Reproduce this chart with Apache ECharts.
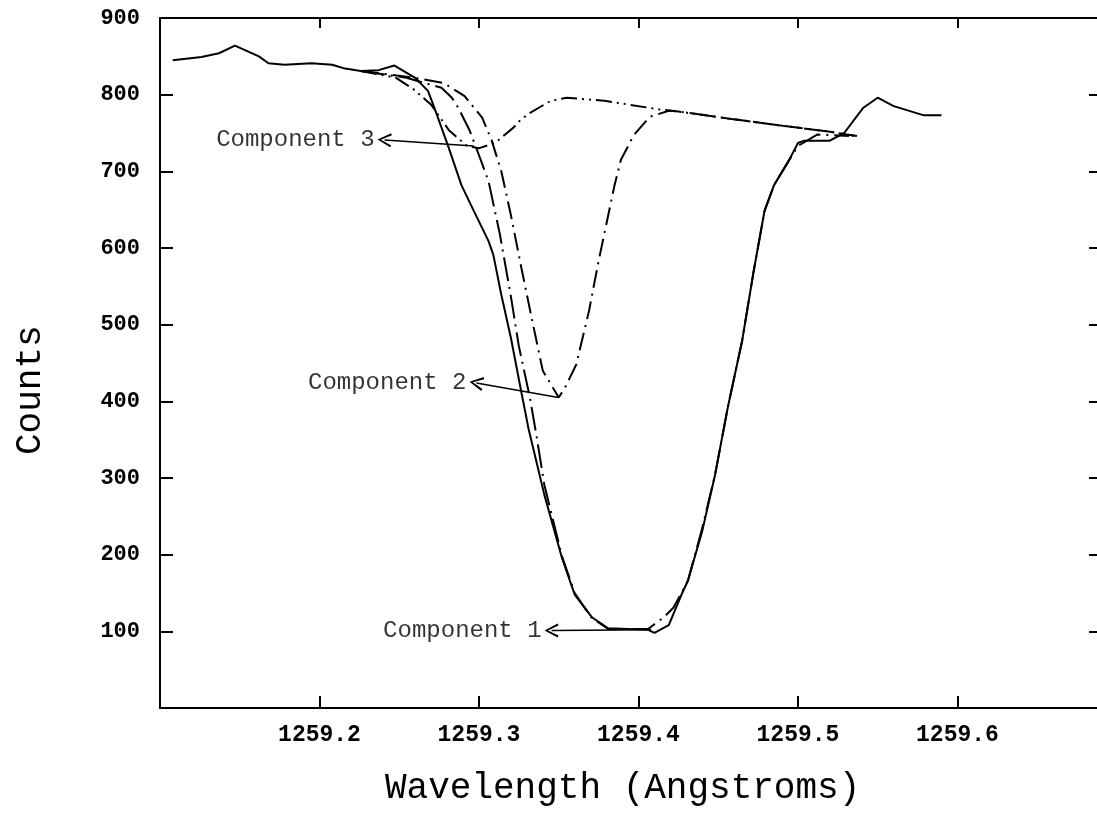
<!DOCTYPE html>
<html><head><meta charset="utf-8">
<script src="https://cdn.jsdelivr.net/npm/echarts@6/dist/echarts.min.js"></script>
<style>html,body{margin:0;padding:0;background:#fff}#c{width:1097px;height:825px}</style>
</head><body><div id="c"></div>
<script>
// Observed spectrum (solid line)
const observedWl = [1259.108,1259.126,1259.137,1259.147,1259.162,1259.168,1259.178,1259.195,1259.208,1259.216,1259.226,1259.237,1259.247,1259.260,1259.268,1259.272,1259.281,1259.289,1259.295,1259.306,1259.309,1259.314,1259.320,1259.326,1259.331,1259.341,1259.352,1259.360,1259.371,1259.381,1259.406,1259.410,1259.419,1259.427,1259.431,1259.440,1259.448,1259.456,1259.465,1259.472,1259.479,1259.485,1259.494,1259.500,1259.504,1259.520,1259.529,1259.541,1259.550,1259.560,1259.579,1259.590];
const observedCounts = [845,849,854,864,850,841,839,841,839,834,831,832,838,822,805,783,731,682,656,609,591,539,483,418,365,278,196,148,118,104,102,98,108,148,166,231,304,392,479,567,648,682,713,737,740,740,750,783,796,785,773,773];

// Component 1 (long dash-dot)
const comp1Wl = [1259.226,1259.2545,1259.2765,1259.283,1259.287,1259.294,1259.300,1259.306,1259.313,1259.320,1259.325,1259.332,1259.336,1259.341,1259.352,1259.360,1259.3705,1259.381,1259.406,1259.4157,1259.422,1259.431,1259.4395,1259.448,1259.456,1259.465,1259.472,1259.479,1259.485,1259.494,1259.500,1259.512,1259.532];
const comp1Counts = [831,822,809,796,783,754,721,687,619,537,472,404,356,291,198,150,118,103,103,118,131,166,231,304,392,479,567,648,682,713,733,748,746];

// Component 2 (dash-dot)
const comp2Wl = [1259.226,1259.2596,1259.278,1259.285,1259.291,1259.302,1259.308,1259.314,1259.320,1259.3266,1259.333,1259.340,1259.350,1259.354,1259.361,1259.369,1259.375,1259.385,1259.389,1259.397,1259.407,1259.419,1259.425,1259.456,1259.488,1259.519,1259.537];
const comp2Counts = [831,822,815,806,798,770,740,700,643,574,509,440,405,418,448,518,583,682,715,747,771,779,778,769,760,752,746];

// Component 3 (dash-dot-dot)
const comp3Wl = [1259.226,1259.248,1259.259,1259.270,1259.281,1259.292,1259.2997,1259.310,1259.3216,1259.326,1259.3317,1259.345,1259.355,1259.3787,1259.394,1259.4125,1259.425,1259.456,1259.488,1259.519,1259.537];
const comp3Counts = [831,822,807,787,754,734,730,737,757,767,776,792,796,792,787,781,778,769,760,752,746];

// Annotations
const annotationLabels = ['Component 1','Component 2','Component 3'];
const arrowHeadWl = [1259.3455,1259.2984,1259.2408];
const arrowHeadCounts = [101,424,741];
const arrowTailWl = [1259.408,1259.3498,1259.2966];
const arrowTailCounts = [102,405,733];

// Axis ticks
const xTickValues = [1259.2,1259.3,1259.4,1259.5,1259.6];
const yTickValues = [100,200,300,400,500,600,700,800,900];
const xMin = 1259.1, xMax = 1259.6875;
const yMin = 0, yMax = 900;

const zip = (a, b) => a.map((v, i) => [v, b[i]]);
const chevron = 'path://M5,0 L10,10 L8.6,10.7 L5,2.6 L1.4,10.7 L0,10 Z';

const axisLineStyle = { color: '#000', width: 2 };
const tickStyle = (len) => ({ show: true, inside: true, length: len, lineStyle: { color: '#000', width: 2 } });

const chart = echarts.init(document.getElementById('c'), null, { renderer: 'canvas' });
chart.setOption({
  animation: false,
  backgroundColor: '#fff',
  grid: { left: 160, right: 0, top: 18, bottom: 117 },
  xAxis: [{
    type: 'value', min: xMin, max: xMax, position: 'bottom',
    axisLine: { show: true, onZero: false, lineStyle: axisLineStyle },
    axisTick: Object.assign(tickStyle(12), { customValues: xTickValues }), splitLine: { show: false },
    axisLabel: { customValues: xTickValues, margin: 16, fontSize: 23, color: '#000', fontFamily: 'Liberation Mono', fontWeight: 'bold', formatter: v => v.toFixed(1) }
  }, {
    type: 'value', min: xMin, max: xMax, position: 'top',
    axisLine: { show: true, onZero: false, lineStyle: axisLineStyle },
    axisTick: Object.assign(tickStyle(10), { customValues: xTickValues }),
    axisLabel: { show: false }, splitLine: { show: false }
  }],
  yAxis: [{
    type: 'value', min: yMin, max: yMax, position: 'left',
    axisLine: { show: true, onZero: false, lineStyle: axisLineStyle },
    axisTick: Object.assign(tickStyle(13), { customValues: yTickValues }), splitLine: { show: false },
    axisLabel: { customValues: yTickValues, margin: 20, color: '#000', fontFamily: 'Liberation Mono', fontWeight: 'bold', fontSize: 22 }
  }, {
    type: 'value', min: yMin, max: yMax, position: 'right',
    axisLine: { show: false },
    axisTick: Object.assign(tickStyle(8), { customValues: yTickValues }),
    axisLabel: { show: false }, splitLine: { show: false }
  }],
  graphic: [
    { type: 'text', top: 770, left: 385, style: { text: 'Wavelength (Angstroms)', font: '36px "Liberation Mono"', fill: '#000' } },
    { type: 'text', rotation: Math.PI / 2, x: 12, y: 455, style: { text: 'Counts', font: '36px "Liberation Mono"', fill: '#000', textAlign: 'left', textVerticalAlign: 'top' } }
  ],
  series: [
    { name: 'Observed', type: 'line', data: zip(observedWl, observedCounts), showSymbol: false, lineStyle: { color: '#000', width: 2 }, z: 3 },
    { name: 'Component 1', type: 'line', data: zip(comp1Wl, comp1Counts), showSymbol: false, lineStyle: { color: '#000', width: 2, type: [24, 6, 2, 6] } },
    { name: 'Component 2', type: 'line', data: zip(comp2Wl, comp2Counts), showSymbol: false, lineStyle: { color: '#000', width: 2, type: [18, 6, 2, 6] } },
    { name: 'Component 3', type: 'line', data: zip(comp3Wl, comp3Counts), showSymbol: false, lineStyle: { color: '#000', width: 2, type: [16, 5, 2, 5, 2, 5] } },
    {
      name: 'labels', type: 'scatter', symbolSize: 0,
      data: annotationLabels.map((t, i) => [arrowHeadWl[i], arrowHeadCounts[i], t]),
      label: { show: true, position: 'left', distance: 10, formatter: p => p.data[2], color: '#000', fontFamily: 'Liberation Mono', fontSize: 24 },
      markLine: {
        silent: true, symbol: ['none', chevron], symbolSize: [14, 14], precision: 4,
        lineStyle: { color: '#000', width: 1.5, type: 'solid' }, label: { show: false },
        data: annotationLabels.map((t, i) => [
          { coord: [arrowTailWl[i], arrowTailCounts[i]] },
          { coord: [arrowHeadWl[i], arrowHeadCounts[i]] }
        ])
      }
    }
  ]
});
</script></body></html>
